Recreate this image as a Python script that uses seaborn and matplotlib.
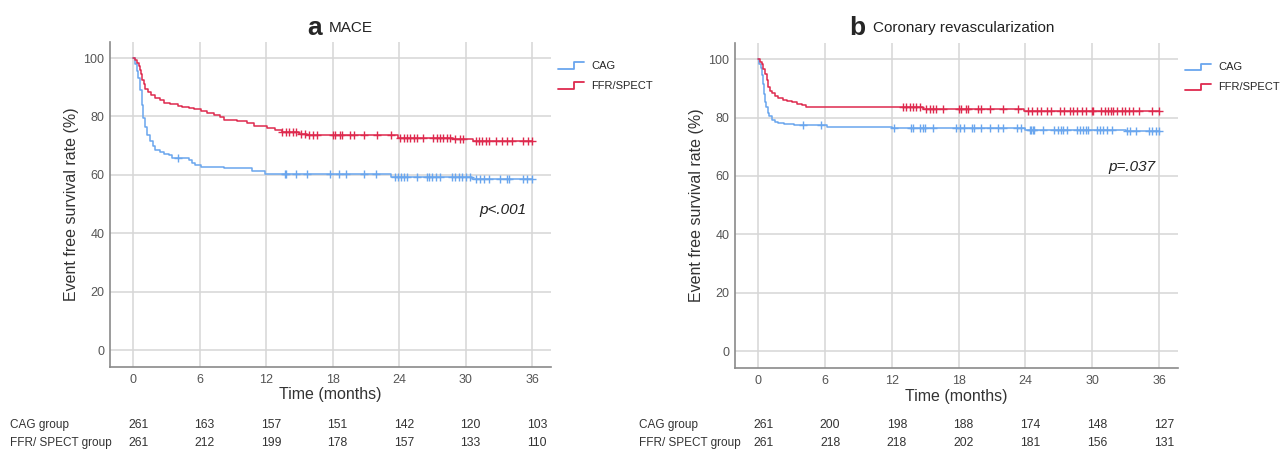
import numpy as np
import pandas as pd
import seaborn as sns
import matplotlib
matplotlib.use("Agg")
from matplotlib import pyplot as plt
from matplotlib.lines import Line2D
from matplotlib.legend_handler import HandlerBase
from matplotlib import transforms

# ---------------- data ----------------
groups = ["CAG", "FFR/SPECT"]
months = [0, 6, 12, 18, 24, 30, 36]

# panel a: MACE
a_cag_t = [0, 0.15, 0.3, 0.45, 0.6, 0.75, 0.9, 1.05, 1.25, 1.5, 1.75, 2.0, 2.4, 2.8, 3.2, 3.5,
           5.0, 5.3, 5.6, 6.1, 8.2, 10.7, 11.9, 23.3, 30.6, 36]
a_cag_s = [100, 98, 95.5, 93, 89, 84, 79.5, 76.5, 73.5, 71.5, 69.8, 68.5, 67.8, 67.3, 66.8, 65.8,
           65.0, 64.2, 63.3, 62.7, 62.2, 61.2, 60.4, 59.3, 58.7, 58.7]
a_ffr_t = [0, 0.2, 0.36, 0.5, 0.6, 0.7, 0.8, 0.95, 1.1, 1.3, 1.6, 2.0, 2.4, 2.8, 3.3, 4.0, 4.4,
           5.0, 5.5, 6.1, 6.7, 7.3, 7.8, 8.2, 9.4, 10.3, 10.9, 12.1, 12.8, 13.4, 14.1, 15.0,
           15.7, 23.9, 28.9, 30.7, 36]
a_ffr_s = [100, 99.2, 98.3, 97.2, 96, 94.5, 92.6, 91, 89.5, 88.3, 87.3, 86.2, 85.5, 84.6, 84.1,
           83.7, 83.3, 82.9, 82.4, 81.7, 81.2, 80.6, 79.8, 78.9, 78.3, 77.6, 76.6, 76.0, 75.3,
           74.8, 74.5, 74.1, 73.6, 72.7, 72.1, 71.5, 71.5]
a_cag_cens = [4.05, 13.7, 13.8, 14.7, 15.65, 17.8, 18.6, 19.2, 20.8, 21.9, 23.6, 23.9, 24.2, 24.4,
              24.7, 25.6, 26.5, 26.7, 27.0, 27.3, 27.7, 28.75, 29.05, 29.4, 29.7, 30.0, 30.4,
              30.95, 31.3, 31.7, 32.1, 33.1, 33.7, 33.9, 35.2, 35.5, 36.0]
a_ffr_cens = [13.4, 13.8, 14.1, 14.4, 14.7, 15.1, 15.5, 15.9, 16.25, 16.6, 18.0, 18.2, 18.7, 18.8,
              19.6, 19.9, 20.8, 22.0, 23.3, 24.1, 24.4, 24.7, 25.0, 25.3, 25.6, 26.2, 27.1, 27.4,
              27.7, 28.0, 28.3, 28.6, 29.05, 29.5, 29.8, 30.9, 31.2, 31.5, 31.8, 32.1, 32.7, 33.3,
              33.7, 34.2, 35.2, 35.6, 36.0]
a_risk_cag = [261, 163, 157, 151, 142, 120, 103]
a_risk_ffr = [261, 212, 199, 178, 157, 133, 110]

# panel b: coronary revascularization
b_cag_t = [0, 0.1, 0.2, 0.3, 0.4, 0.5, 0.6, 0.7, 0.85, 1.0, 1.2, 1.5, 1.8, 2.3, 3.2, 4.1, 6.2,
           12.0, 24.0, 33.0, 36]
b_cag_s = [100, 98.5, 97, 94.5, 91.5, 88, 85.5, 83.5, 81.5, 80.5, 79.3, 78.6, 78.2, 77.9, 77.6,
           77.4, 76.8, 76.5, 75.9, 75.3, 75.3]
b_ffr_t = [0, 0.15, 0.3, 0.45, 0.6, 0.75, 0.9, 1.05, 1.25, 1.5, 1.8, 2.2, 2.6, 3.0, 3.5, 3.9,
           4.3, 14.8, 18.0, 23.9, 36]
b_ffr_s = [100, 99, 98.3, 96.5, 95, 93, 90.5, 89.2, 88.5, 87.5, 86.8, 86.0, 85.6, 85.2, 84.7,
           84.2, 83.6, 83.1, 82.8, 82.3, 82.3]
b_cag_cens = [4.0, 5.6, 12.2, 13.7, 13.9, 14.5, 14.8, 15.0, 15.7, 17.8, 18.1, 18.5, 19.2, 19.4,
              20.0, 20.8, 21.5, 22.0, 23.2, 23.6, 24.4, 24.5, 24.7, 24.8, 25.6, 26.6, 26.9, 27.2,
              27.4, 27.7, 28.6, 28.9, 29.2, 29.4, 29.65, 30.4, 30.7, 31.0, 31.3, 31.75, 33.1,
              33.4, 33.9, 35.1, 35.4, 35.7, 36.0]
b_ffr_cens = [13.0, 13.3, 13.6, 13.9, 14.2, 14.5, 15.1, 15.4, 15.7, 16.0, 16.6, 18.0, 18.2, 18.7,
              18.8, 19.7, 20.0, 20.8, 22.0, 23.3, 24.2, 24.6, 25.0, 25.4, 25.9, 26.3, 27.1, 27.5,
              28.0, 28.3, 28.6, 29.05, 29.4, 29.95, 30.1, 30.8, 31.15, 31.45, 31.7, 31.9, 32.2,
              32.65, 32.9, 33.3, 33.7, 34.2, 35.4, 36.0]
b_risk_cag = [261, 200, 198, 188, 174, 148, 127]
b_risk_ffr = [261, 218, 218, 202, 181, 156, 131]

colors = {"CAG": "#6aa6ee", "FFR/SPECT": "#de2a4e"}

# ---------------- style ----------------
sns.set_style("whitegrid")
plt.rcParams["font.family"] = ["Liberation Sans", "DejaVu Sans"]
grid_col = "#d6d6d6"
tick_col = "#555555"


class StepHandler(HandlerBase):
    # little KM-style step icon for the legend
    def create_artists(self, legend, orig, xd, yd, w, h, fontsize, trans):
        x0, y0 = -xd, -yd
        xs = [x0, x0 + w * 0.6, x0 + w * 0.6, x0 + w]
        ys = [y0 + h * 0.05, y0 + h * 0.05, y0 + h * 0.85, y0 + h * 0.85]
        return [Line2D(xs, ys, color=orig.get_color(), lw=1.3, transform=trans)]


def step_value(t, s, x):
    idx = np.searchsorted(t, x, side="right") - 1
    return np.asarray(s)[idx]


def km_panel(ax, curves, cens, ptext, pxy):
    rows = []
    for g in groups:
        t, s = curves[g]
        rows.append(pd.DataFrame({"time": t, "surv": s, "group": g}))
    df = pd.concat(rows)
    sns.lineplot(data=df, x="time", y="surv", hue="group", palette=colors, estimator=None,
                 sort=False, drawstyle="steps-post", lw=1.1, ax=ax, legend=False)
    for g in groups:
        t, s = curves[g]
        c = np.array(cens[g])
        cdf = pd.DataFrame({"time": c, "surv": step_value(t, s, c)})
        sns.scatterplot(data=cdf, x="time", y="surv", marker="+", s=38, linewidth=1.0,
                        color=colors[g], ax=ax, zorder=3)

    ax.set_xlim(-2.1, 37.7)
    ax.set_ylim(-5.8, 105.5)
    ax.set_xticks(months)
    ax.set_yticks([0, 20, 40, 60, 80, 100])
    ax.grid(True, color=grid_col, lw=1.1)
    for sp in ["top", "right"]:
        ax.spines[sp].set_visible(False)
    for sp in ["left", "bottom"]:
        ax.spines[sp].set_color("#8a8a8a")
        ax.spines[sp].set_linewidth(1.2)
    ax.tick_params(axis="both", length=0, labelsize=9, labelcolor=tick_col)
    ax.tick_params(axis="x", pad=5)
    ax.tick_params(axis="y", pad=4)
    ax.set_xlabel("Time (months)", fontsize=11.5, color="#333333", labelpad=1)
    ax.set_ylabel("Event free survival rate (%)", fontsize=11.5, color="#333333", labelpad=3)
    ax.text(pxy[0], pxy[1], ptext, style="italic", fontsize=11, ha="right", va="center",
            color="#222222")

    handles = [Line2D([], [], color=colors[g]) for g in groups]
    ax.legend(handles, groups, handler_map={Line2D: StepHandler()}, frameon=False,
              loc="upper left", bbox_to_anchor=(1.005, 0.955), fontsize=8, handlelength=2.4,
              handletextpad=0.6, labelspacing=0.9, borderaxespad=0)


def risk_table(fig, ax, label_x, risk_cag, risk_ffr):
    trans = transforms.blended_transform_factory(ax.transData, fig.transFigure)
    for y, lab, vals in [(0.053, "CAG group", risk_cag), (0.013, "FFR/ SPECT group", risk_ffr)]:
        fig.text(label_x, y, lab, fontsize=8.5, color="#333333", va="center")
        for m, v in zip(months, vals):
            ax.text(m + 0.45, y, str(v), transform=trans, fontsize=8.7, color="#333333",
                    ha="center", va="center", clip_on=False)


fig = plt.figure(figsize=(12.8, 4.49), dpi=100)
ax_a = fig.add_axes([0.0859, 0.1826, 0.3445, 0.724])
ax_b = fig.add_axes([0.5742, 0.180, 0.3461, 0.724])

km_panel(ax_a, {"CAG": (a_cag_t, a_cag_s), "FFR/SPECT": (a_ffr_t, a_ffr_s)},
         {"CAG": a_cag_cens, "FFR/SPECT": a_ffr_cens}, "p<.001", (35.5, 48))
km_panel(ax_b, {"CAG": (b_cag_t, b_cag_s), "FFR/SPECT": (b_ffr_t, b_ffr_s)},
         {"CAG": b_cag_cens, "FFR/SPECT": b_ffr_cens}, "p=.037", (35.7, 63))

risk_table(fig, ax_a, 0.008, a_risk_cag, a_risk_ffr)
risk_table(fig, ax_b, 0.499, b_risk_cag, b_risk_ffr)

# panel titles: bold letter + plain text
fig.text(0.2512, 0.938, "a", fontsize=19, fontweight="bold", ha="right", va="center")
fig.text(0.2568, 0.938, "MACE", fontsize=11, ha="left", va="center", color="#222222")
fig.text(0.6758, 0.938, "b", fontsize=19, fontweight="bold", ha="right", va="center")
fig.text(0.6822, 0.938, "Coronary revascularization", fontsize=11, ha="left", va="center",
         color="#222222")

plt.savefig("out.png", dpi=100)
